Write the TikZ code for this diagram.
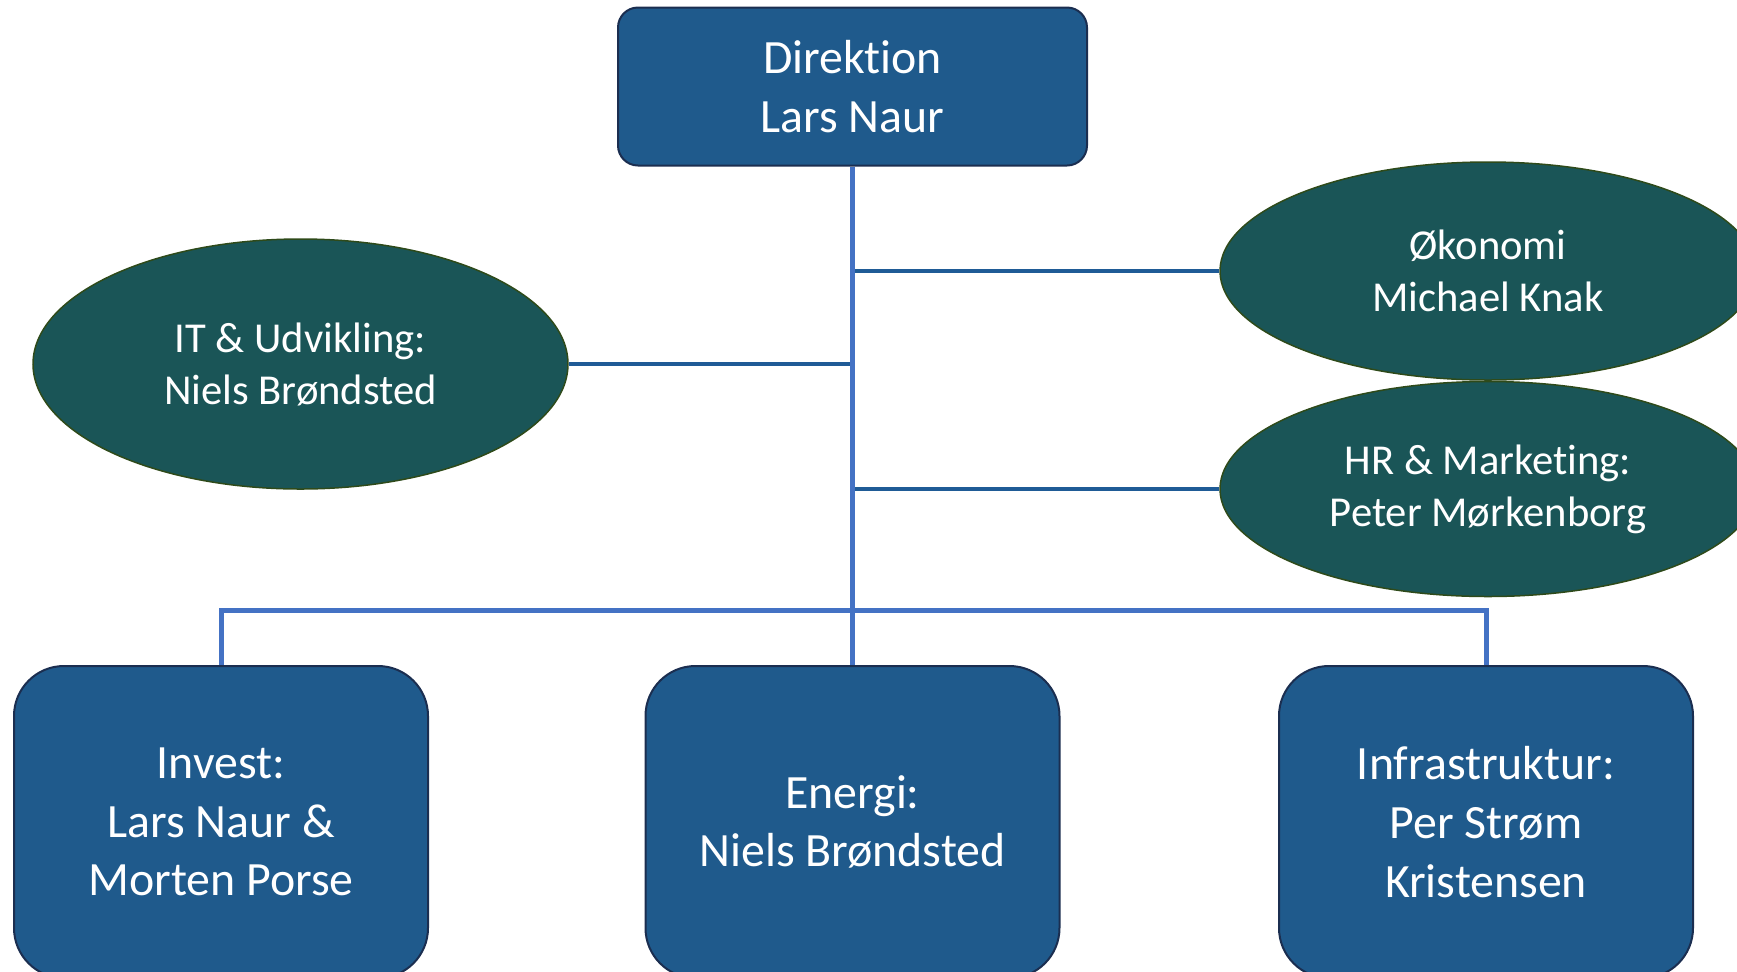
\documentclass[tikz,border=0pt]{standalone}
\usepackage{fontspec}
\setmainfont{Carlito}[Ligatures=NoCommon]
\usetikzlibrary{shapes.geometric}
\definecolor{boxblue}{HTML}{1F5A8C}
\definecolor{boxedge}{HTML}{1B2E50}
\definecolor{ovalfill}{HTML}{1A5557}
\definecolor{ovaledge}{HTML}{2E4A1A}
\definecolor{trunkblue}{HTML}{4472C4}
\definecolor{branchblue}{HTML}{1F5B96}
\begin{document}
\begin{tikzpicture}[x=.5pt, y=-.5pt,
                    box/.style={rectangle, draw=boxedge, line width=1pt, fill=boxblue,
                      text=white, align=center, inner sep=0pt,
                      font=\fontsize{23.9}{29.3}\selectfont},
                    oval/.style={ellipse, draw=ovaledge, line width=.75pt, fill=ovalfill,
                      text=white, align=center, inner sep=0pt,
                      minimum width=268pt, font=\fontsize{21.3}{26}\selectfont},
                    trunk/.style={draw=trunkblue, line width=2.5pt},
                    branch/.style={draw=branchblue, line width=2pt}]
      \useasboundingbox (0,0) rectangle (1737,971);

      \node[box, rounded corners=10pt, minimum width=234.5pt, minimum height=79pt]
        (dir) at (852.5,86.5) {Direktion\\Lars Naur};
      \node[oval, minimum height=109pt] (okon) at (1488,271) {Økonomi\\Michael Knak};
      \node[oval, minimum height=107.5pt] (hr) at (1488,489) {HR \& Marketing:\\Peter Mørkenborg};
      \node[oval, minimum width=267.5pt, minimum height=125pt] (it) at (300.5,364)
        {IT \& Udvikling:\\Niels Brøndsted};

      \node[box, rounded corners=25pt, minimum width=207pt, minimum height=156pt]
        (inv) at (221,822) {Invest:\\Lars Naur \&\\Morten Porse};
      \node[box, rounded corners=25pt, minimum width=207pt, minimum height=156pt]
        (ener) at (852.5,822) {Energi:\\Niels Brøndsted};
      \node[box, rounded corners=25pt, minimum width=207pt, minimum height=156pt]
        (infra) at (1486,822) {Infrastruktur:\\Per Strøm\\Kristensen};

      \coordinate (bus) at (852.5,610.5);

      \draw[branch] (okon.west) -- (okon.west -| dir.south);
      \draw[branch] (hr.west) -- (hr.west -| dir.south);
      \draw[branch] (it.east) -- (it.east -| dir.south);

      \draw[trunk] (dir.south) -- (ener.north);
      \draw[trunk] (inv.north) |- (bus) -| (infra.north);
    \end{tikzpicture}
\end{document}
